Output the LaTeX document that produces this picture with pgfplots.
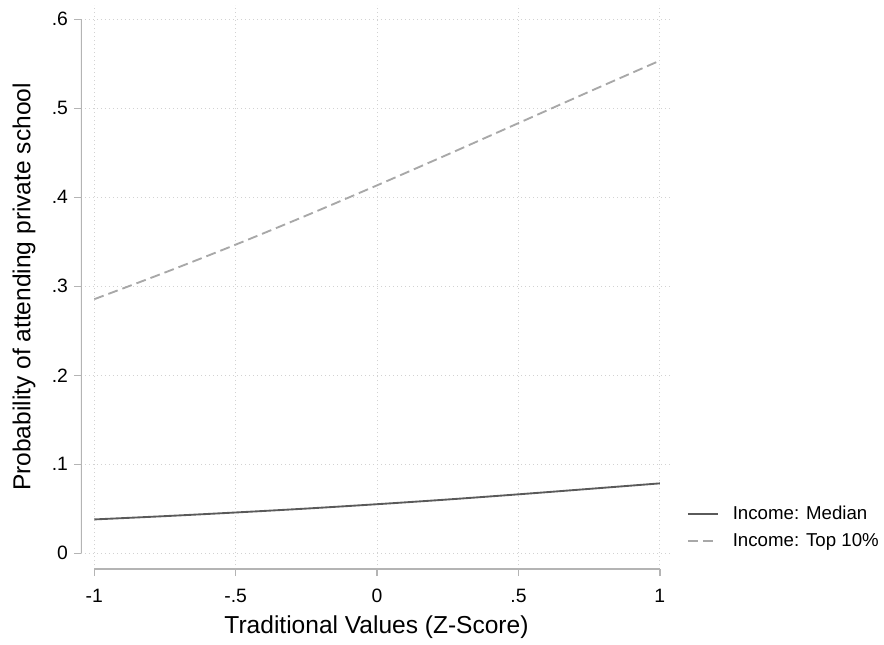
\documentclass[border=0pt]{standalone}
\usepackage{pgfplots}
\pgfplotsset{compat=1.18}
\usepackage{fontspec}
\setmainfont{Liberation Sans}
\definecolor{medc}{HTML}{5A5A5A}
\definecolor{topc}{HTML}{A8A8A8}
\definecolor{axc}{HTML}{B4B4B4}
\definecolor{gridc}{HTML}{D2D2D2}
\begin{document}
\begin{tikzpicture}[x=1pt,y=1pt]
\begin{axis}[
  scale only axis,
  width=443.25pt, height=423pt,
  xmin=-1.047, xmax=1.043,
  ymin=-0.0176, ymax=0.616,
  axis lines*=left,
  axis line style={draw=none},
  tick align=outside,
  major tick length=5.25pt,
  tick style={color=axc, line width=1.1pt},
  xtick={-1,-0.5,0,0.5,1},
  xticklabels={-1,-.5,0,.5,1},
  ytick={0,0.1,0.2,0.3,0.4,0.5,0.6},
  yticklabels={0,.1,.2,.3,.4,.5,.6},
  ticklabel style={font=\fontsize{14.5}{16}\selectfont},
  xticklabel style={yshift=-6pt},
  yticklabel style={xshift=-1pt},
  grid=major,
  major grid style={color=gridc, line width=0.8pt, dash pattern=on 0.8pt off 2.2pt},
  xlabel={Traditional Values (Z-Score)},
  ylabel={Probability of attending private school},
  label style={font=\fontsize{18.4}{22}\selectfont},
  xlabel style={at={(axis description cs:0.5,0)}, anchor=base, yshift=-48pt},
  ylabel style={at={(axis description cs:0,0.5)}, anchor=center, yshift=42.75pt},
  legend style={at={(1,0.0736)}, anchor=west, xshift=11pt, draw=none, fill=none,
    font=\fontsize{14}{16}\selectfont, inner sep=0pt, row sep=9pt,
    nodes={inner xsep=0pt, inner ysep=0pt}, column sep=10.5pt},
  legend cell align=left,
  legend image code/.code={\draw[#1] (0pt,0pt) -- (22.5pt,0pt);},
]
\addplot[color=medc, line width=1.4pt, smooth] coordinates {
(-1,0.0381) (-0.75,0.0418) (-0.5,0.0459) (-0.25,0.0503) (0,0.0552)
(0.25,0.0605) (0.5,0.0663) (0.75,0.0724) (1,0.0786)};
\addlegendentry{Income: Median}
\addplot[color=topc, line width=1.4pt, smooth, dash pattern=on 7.5pt off 3.75pt] coordinates {
(-1,0.2855) (-0.75,0.3155) (-0.5,0.3468) (-0.25,0.3795) (0,0.4134)
(0.25,0.4481) (0.5,0.4833) (0.75,0.5186) (1,0.5535)};
\addlegendentry{Income: Top 10\%}
\draw[axc, line width=1.1pt] (axis cs:-1.047,0) -- (axis cs:-1.047,0.6);
\draw[axc, line width=1.1pt] (axis cs:-1,-0.0176) -- (axis cs:1,-0.0176);
\end{axis}
\pgfresetboundingbox
\path[use as bounding box] (-60.75pt,-56.25pt) rectangle (602.25pt,426.75pt);
\end{tikzpicture}
\end{document}
